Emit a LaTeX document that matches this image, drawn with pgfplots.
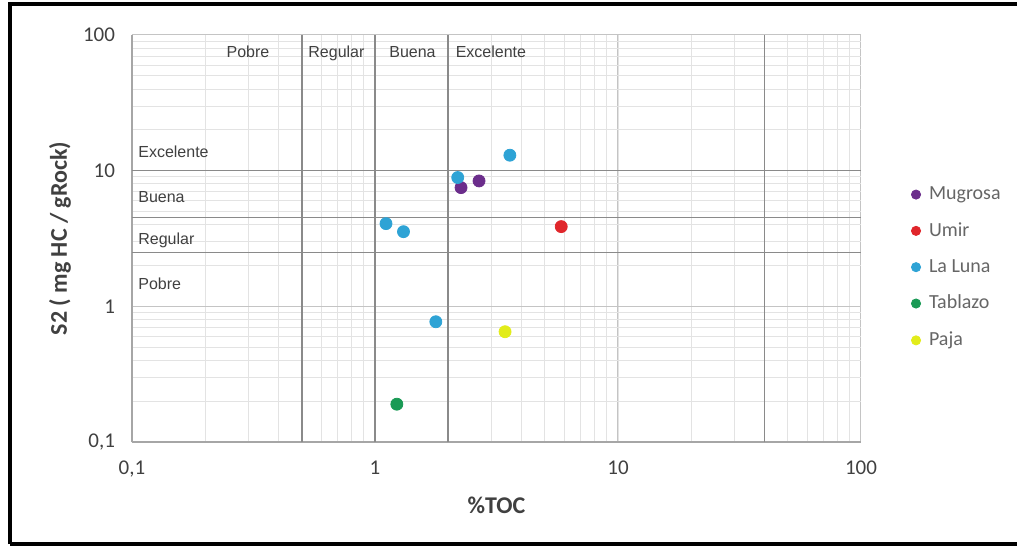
\documentclass[border=0pt]{standalone}
\usepackage{fontspec}
\setmainfont{Carlito}
\newfontfamily\arialf{Liberation Sans}
\usepackage{pgfplots}
\pgfplotsset{compat=1.18}
\definecolor{cMug}{HTML}{6B2D8B}
\definecolor{cUmir}{HTML}{E0262B}
\definecolor{cLuna}{HTML}{2EA3D5}
\definecolor{cTab}{HTML}{1A9A55}
\definecolor{cPaja}{HTML}{E2EC1A}
\definecolor{gridmaj}{HTML}{C4C4C4}
\definecolor{gridmin}{HTML}{E3E3E3}
\definecolor{classc}{HTML}{8A8A8A}
\definecolor{axisc}{HTML}{A6A6A6}
\definecolor{tickc}{HTML}{404040}
\definecolor{labc}{HTML}{404040}
\definecolor{legc}{HTML}{666666}
\tikzset{region/.style={font=\arialf\fontsize{8}{9}\selectfont, text=labc, text height=1.6ex, text depth=0.45ex}}
\begin{document}
\begin{tikzpicture}
\useasboundingbox (0,0) rectangle (508.5pt,273pt);
\draw[line width=2pt] (4.75pt,1pt) -- (4.75pt,271pt) -- (520pt,271pt);
\draw[line width=2pt] (4.75pt,1pt) -- (520pt,1pt);
\begin{axis}[
  at={(66pt,52pt)}, anchor=south west,
  scale only axis, width=364.5pt, height=203.5pt,
  xmode=log, ymode=log,
  xmin=0.1, xmax=100, ymin=0.1, ymax=100,
  log ticks with fixed point,
  /pgf/number format/use comma,
  /pgf/number format/assume math mode=true,
  grid=both,
  major grid style={color=gridmaj, line width=0.5pt},
  minor grid style={color=gridmin, line width=0.4pt},
  major tick length=0pt, minor tick length=0pt,
  axis x line*=bottom, axis y line*=left,
  axis line style={color=axisc, line width=0.8pt, -},
  ticklabel style={font=\fontsize{10.5}{12}\selectfont, text=tickc},
  yticklabel style={xshift=-5pt},
  xticklabel style={yshift=-6pt},
  xlabel={\%TOC},
  xlabel style={font=\bfseries\fontsize{12}{14}\selectfont, text=labc, at={(axis description cs:0.5,-0.155)}, anchor=center},
  ylabel={S2 ( mg HC / gRock)},
  ylabel style={font=\bfseries\fontsize{12}{14}\selectfont, text=labc, at={(axis description cs:-0.0988,0.5)}, anchor=center},
  legend style={at={(axis description cs:1.0604,0.648)}, anchor=north west, draw=none, fill=none,
    font=\fontsize{10}{12}\selectfont, text=legc, row sep=6pt,
    legend cell align=left},
  legend image code/.code={\draw[#1,only marks,mark size=2.3pt] plot coordinates {(0pt,0pt)}; \path (4.3pt,0pt);},
]
% class boundary lines
\addplot[classc, line width=0.7pt, forget plot] coordinates {(0.5,0.1) (0.5,100)};
\addplot[classc, line width=0.7pt, forget plot] coordinates {(1,0.1) (1,100)};
\addplot[classc, line width=0.7pt, forget plot] coordinates {(2,0.1) (2,100)};
\addplot[classc, line width=0.7pt, forget plot] coordinates {(40,0.1) (40,100)};
\addplot[classc, line width=0.7pt, forget plot] coordinates {(0.1,10) (100,10)};
\addplot[classc, line width=0.7pt, forget plot] coordinates {(0.1,4.5) (100,4.5)};
\addplot[classc, line width=0.7pt, forget plot] coordinates {(0.1,2.5) (100,2.5)};
% data
\addplot[only marks, mark=*, mark size=3pt, color=cMug] coordinates {(2.26,7.5) (2.68,8.4)};
\addlegendentry{Mugrosa}
\addplot[only marks, mark=*, mark size=3pt, color=cUmir] coordinates {(5.84,3.87)};
\addlegendentry{Umir}
\addplot[only marks, mark=*, mark size=3pt, color=cLuna] coordinates {(3.59,13.0) (2.19,8.9) (1.11,4.07) (1.31,3.55) (1.78,0.77)};
\addlegendentry{La Luna}
\addplot[only marks, mark=*, mark size=3pt, color=cTab] coordinates {(1.23,0.19)};
\addlegendentry{Tablazo}
\addplot[only marks, mark=*, mark size=3pt, color=cPaja] coordinates {(3.43,0.65)};
\addlegendentry{Paja}
% region labels
\node[region] at (axis cs:0.300,75.4) {Pobre};
\node[region] at (axis cs:0.694,75.4) {Regular};
\node[region] at (axis cs:1.427,75.4) {Buena};
\node[region] at (axis cs:3.00,75.4) {Excelente};
\node[region, anchor=west, inner xsep=0pt] at (axis cs:0.1058,13.66) {Excelente};
\node[region, anchor=west, inner xsep=0pt] at (axis cs:0.1058,6.43) {Buena};
\node[region, anchor=west, inner xsep=0pt] at (axis cs:0.1058,3.14) {Regular};
\node[region, anchor=west, inner xsep=0pt] at (axis cs:0.1058,1.46) {Pobre};
\end{axis}
\end{tikzpicture}
\end{document}
